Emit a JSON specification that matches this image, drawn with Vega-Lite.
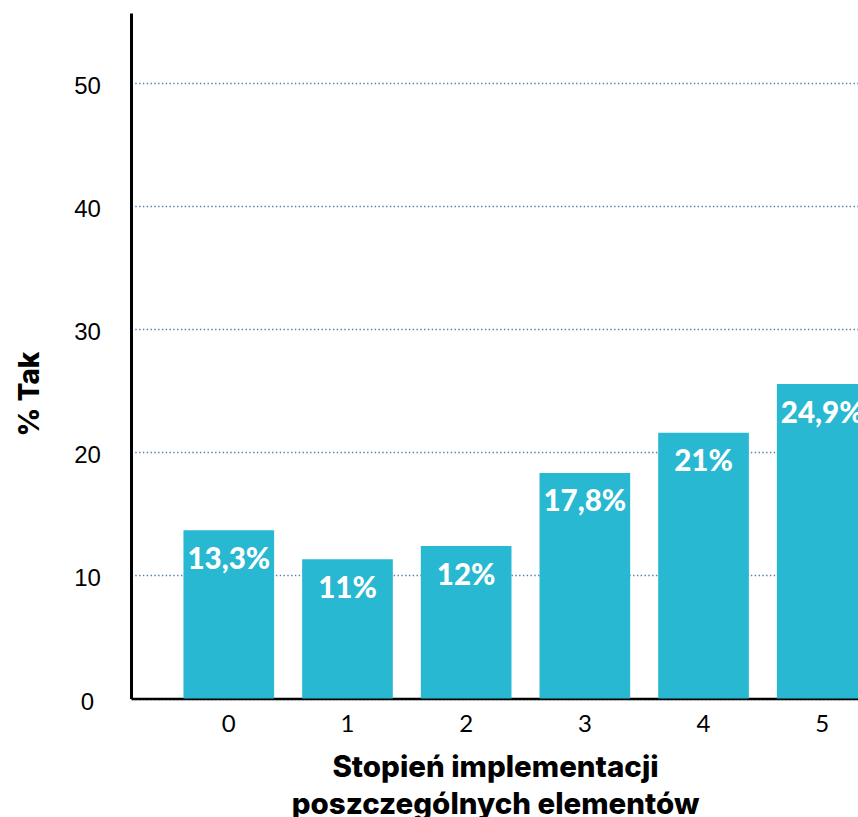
{
  "$schema": "https://vega.github.io/schema/vega-lite/v6.json",
  "width": 727,
  "height": 685.5,
  "autosize": {"type": "none"},
  "padding": {"left": 131, "top": 13, "right": 0, "bottom": 118.5},
  "background": "white",
  "config": {"view": {"stroke": null}},
  "data": {
    "values": [
      {"stopien": "0", "pct": 13.67, "label": "13,3%"},
      {"stopien": "1", "pct": 11.31, "label": "11%"},
      {"stopien": "2", "pct": 12.39, "label": "12%"},
      {"stopien": "3", "pct": 18.33, "label": "17,8%"},
      {"stopien": "4", "pct": 21.59, "label": "21%"},
      {"stopien": "5", "pct": 25.55, "label": "24,9%"}
    ]
  },
  "encoding": {
    "x": {
      "field": "stopien",
      "type": "ordinal",
      "sort": null,
      "scale": {"range": [0, 789], "paddingInner": 0.236, "paddingOuter": 0.442},
      "axis": {
        "title": ["Stopień implementacji", "poszczególnych  elementów"],
        "titleFont": "Inter",
        "titleFontWeight": 800,
        "titleFontSize": 29.5,
        "titleColor": "#000000",
        "titleX": 364,
        "titleY": 77.5,
        "titleAlign": "center",
        "titleAnchor": null,
        "titleBaseline": "alphabetic",
        "titleLineHeight": 37,
        "labelAngle": 0,
        "labelFont": "Lato",
        "labelFontSize": 24,
        "labelColor": "#000000",
        "labelBaseline": "middle",
        "labelPadding": 25.5,
        "ticks": false,
        "tickSize": 0,
        "domainColor": "#000000",
        "domainWidth": 2.7,
        "grid": false
      }
    },
    "y": {
      "field": "pct",
      "type": "quantitative",
      "scale": {"domain": [0, 55.7], "nice": false, "zero": true},
      "axis": {
        "title": "% Tak",
        "titleFont": "Inter",
        "titleFontWeight": 800,
        "titleFontSize": 28,
        "titleColor": "#000000",
        "titleX": -101,
        "titleY": 380.5,
        "titleAngle": -90,
        "titleAlign": "center",
        "titleAnchor": null,
        "titleBaseline": "middle",
        "values": [0, 10, 20, 30, 40, 50],
        "labelFont": "Liberation Sans",
        "labelFontSize": 24,
        "labelColor": "#000000",
        "labelAlign": "center",
        "labelBaseline": "middle",
        "labelPadding": 44,
        "labelOffset": 3.5,
        "ticks": false,
        "tickSize": 0,
        "domainColor": "#000000",
        "domainWidth": 3,
        "grid": true,
        "gridColor": "#4f7fa8",
        "gridDash": [1.4, 2.4],
        "gridWidth": 1.3
      }
    }
  },
  "layer": [
    {"mark": {"type": "bar", "color": "#28b8d2"}},
    {
      "mark": {
        "type": "text",
        "color": "#ffffff",
        "font": "Lato",
        "fontWeight": 900,
        "fontSize": 29.5,
        "align": "center",
        "baseline": "alphabetic",
        "dy": 38.5
      },
      "encoding": {"text": {"field": "label"}}
    }
  ]
}
